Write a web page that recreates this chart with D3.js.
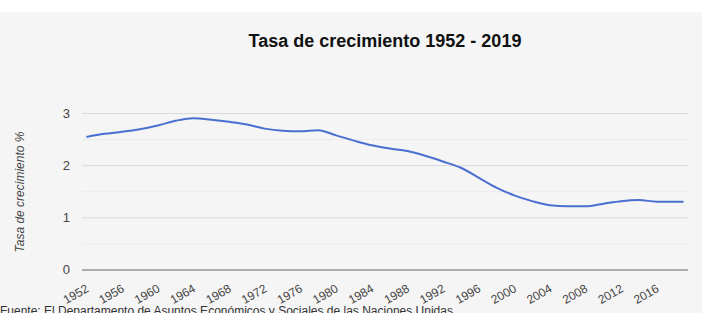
<!DOCTYPE html>
<html>
<head>
<meta charset="utf-8">
<script src="https://cdn.jsdelivr.net/npm/d3@7"></script>
<style>
body { margin: 0; background: #fff; font-family: "Liberation Sans", Arial, sans-serif; }
</style>
</head>
<body>
<div id="chart"></div>
<script>
// values
var years = [1952, 1954, 1956, 1958, 1960, 1962, 1964, 1966, 1968, 1970, 1972, 1974, 1976, 1978, 1980,
             1982, 1984, 1986, 1988, 1990, 1992, 1994, 1996, 1998, 2000, 2002, 2004, 2006, 2008, 2010,
             2012, 2014, 2016, 2018, 2019];
var rates = [2.55, 2.61, 2.65, 2.70, 2.77, 2.86, 2.91, 2.88, 2.84, 2.79, 2.71, 2.67, 2.66, 2.68, 2.58,
             2.48, 2.39, 2.33, 2.28, 2.19, 2.08, 1.96, 1.77, 1.58, 1.43, 1.32, 1.24, 1.22, 1.22, 1.27,
             1.32, 1.34, 1.31, 1.31, 1.31];
var yearTicks = [1952, 1956, 1960, 1964, 1968, 1972, 1976, 1980, 1984, 1988, 1992, 1996, 2000, 2004, 2008, 2012, 2016];
var majorTicks = [0, 1, 2, 3];
var minorTicks = [0.5, 1.5, 2.5];

var W = 702, H = 313;
var svg = d3.select("#chart").append("svg").attr("width", W).attr("height", H);

svg.append("rect").attr("x", 0).attr("y", 12).attr("width", W).attr("height", H - 12).attr("fill", "#f5f5f5");

var left = 82, right = 688;
var x = d3.scaleLinear().domain([1951.5, 2019.5]).range([left, right]);
var y = d3.scaleLinear().domain([0, 3]).range([270, 113.5]);

svg.append("text")
    .attr("x", 385).attr("y", 47)
    .attr("text-anchor", "middle")
    .style("font-size", "18px").style("font-weight", "bold").attr("fill", "#111")
    .text("Tasa de crecimiento 1952 - 2019");

svg.selectAll(".minor").data(minorTicks).enter().append("line")
    .attr("x1", left).attr("x2", right)
    .attr("y1", function(d) { return y(d); }).attr("y2", function(d) { return y(d); })
    .attr("stroke", "#ebebeb").attr("stroke-width", 1);

svg.selectAll(".major").data(majorTicks.filter(function(d) { return d > 0; })).enter().append("line")
    .attr("x1", left).attr("x2", right)
    .attr("y1", function(d) { return y(d); }).attr("y2", function(d) { return y(d); })
    .attr("stroke", "#d9d9d9").attr("stroke-width", 1);

svg.selectAll(".ylab").data(majorTicks).enter().append("text")
    .attr("x", 70).attr("y", function(d) { return y(d) + 4; })
    .attr("text-anchor", "end")
    .style("font-size", "13px").attr("fill", "#444")
    .text(function(d) { return d; });

svg.append("text")
    .attr("transform", "translate(24,192) rotate(-90)")
    .attr("text-anchor", "middle")
    .style("font-size", "12px").style("font-style", "italic").attr("fill", "#444")
    .text("Tasa de crecimiento %");

var line = d3.line()
    .x(function(d, i) { return x(years[i]); })
    .y(function(d) { return y(d); })
    .curve(d3.curveMonotoneX);

svg.append("path").datum(rates)
    .attr("d", line)
    .attr("fill", "none").attr("stroke", "#4a6fd1").attr("stroke-width", 2);

svg.append("line")
    .attr("x1", left).attr("x2", right).attr("y1", 270).attr("y2", 270)
    .attr("stroke", "#666").attr("stroke-width", 1);

svg.selectAll(".xlab").data(yearTicks).enter().append("text")
    .attr("transform", function(d) { return "translate(" + (x(d) + 3) + ",291) rotate(-30)"; })
    .attr("text-anchor", "end")
    .style("font-size", "12px").attr("fill", "#444")
    .text(function(d) { return d; });

// source line, cut by the bottom edge as in the original
svg.append("text")
    .attr("x", 0).attr("y", 315)
    .style("font-size", "12px").attr("fill", "#333")
    .text("Fuente: El Departamento de Asuntos Económicos y Sociales de las Naciones Unidas");
</script>
</body>
</html>
